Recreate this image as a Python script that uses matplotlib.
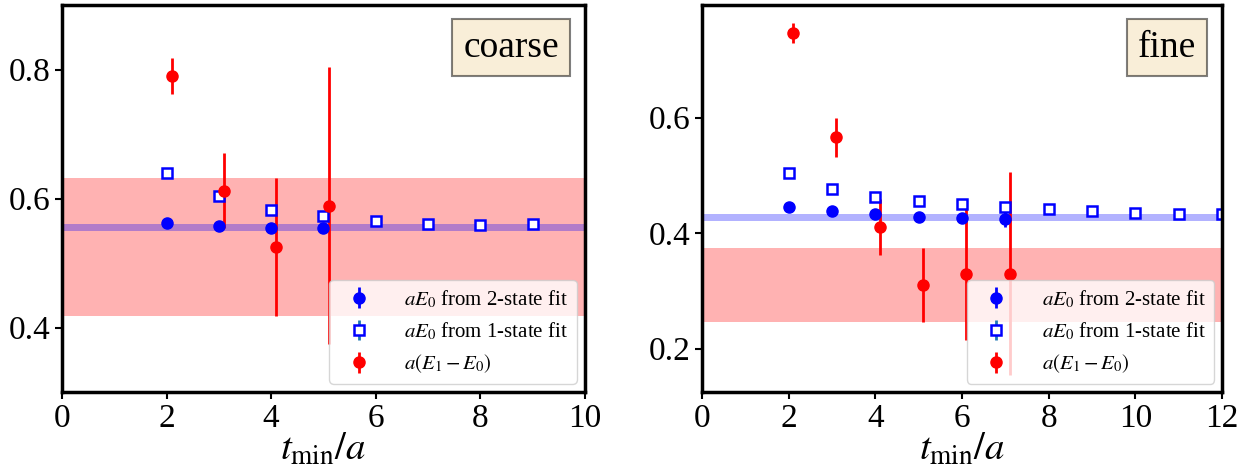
import numpy as np
import matplotlib
matplotlib.use('Agg')
import matplotlib.pyplot as plt

plt.rcParams['font.family'] = ['Liberation Serif', 'DejaVu Serif']
plt.rcParams['mathtext.fontset'] = 'stix'

# coarse ensemble
coarse_t2 = [2, 3, 4, 5]
coarse_E0_2st = [0.562, 0.557, 0.554, 0.554]
coarse_E0_2st_err = [0.004, 0.004, 0.004, 0.004]
coarse_t1 = [2, 3, 4, 5, 6, 7, 8, 9]
coarse_E0_1st = [0.639, 0.604, 0.583, 0.573, 0.565, 0.560, 0.559, 0.561]
coarse_E0_1st_err = [0.002, 0.002, 0.002, 0.002, 0.002, 0.002, 0.002, 0.002]
coarse_dE = [0.790, 0.612, 0.525, 0.589]
coarse_dE_err = [0.028, 0.058, 0.107, 0.215]
coarse_E0_band = (0.5545, 0.0055)
coarse_dE_band = (0.525, 0.107)

# fine ensemble
fine_t2 = [2, 3, 4, 5, 6, 7]
fine_E0_2st = [0.446, 0.439, 0.434, 0.428, 0.427, 0.424]
fine_E0_2st_err = [0.003, 0.003, 0.004, 0.004, 0.005, 0.014]
fine_t1 = [2, 3, 4, 5, 6, 7, 8, 9, 10, 11, 12]
fine_E0_1st = [0.505, 0.476, 0.462, 0.456, 0.450, 0.446, 0.442, 0.439, 0.435, 0.434, 0.434]
fine_E0_1st_err = [0.002] * 11
fine_dE = [0.747, 0.566, 0.411, 0.310, 0.330, 0.330]
fine_dE_err = [0.017, 0.034, 0.048, 0.064, 0.115, 0.176]
fine_E0_band = (0.428, 0.006)
fine_dE_band = (0.310, 0.064)


def draw(ax, t2, e2, e2err, t1, e1, e1err, de, deerr, e0band, deband, xmax, ylim, name):
    ax.axhspan(deband[0] - deband[1], deband[0] + deband[1], color='red', alpha=0.3, lw=0)
    ax.axhspan(e0band[0] - e0band[1], e0band[0] + e0band[1], color='blue', alpha=0.3, lw=0)
    ax.errorbar(t2, e2, yerr=e2err, fmt='o', color='blue', ms=8, elinewidth=2,
                label=r'$aE_0$ from 2-state fit')
    ax.errorbar(t1, e1, yerr=e1err, fmt='s', mfc='white', mec='blue', mew=1.8, ms=7,
                ecolor='C0', elinewidth=2, label=r'$aE_0$ from 1-state fit')
    ax.errorbar(np.array(t2) + 0.1, de, yerr=deerr, fmt='o', color='red', ms=8,
                elinewidth=2, label=r'$a(E_1-E_0)$')
    ax.set_xlim(0, xmax)
    ax.set_xticks(range(0, xmax + 1, 2))
    ax.set_ylim(*ylim)
    ax.set_xlabel(r'$t_{\rm min}/a$', fontsize=28, labelpad=-2)
    ax.tick_params(labelsize=24, width=1.5, length=5)
    for s in ax.spines.values():
        s.set_linewidth(2.5)
    ax.legend(loc='lower right', fontsize=15, handletextpad=1.2, borderaxespad=0.4)
    ax.text(0.95, 0.935, name, transform=ax.transAxes, fontsize=27, ha='right', va='top',
            bbox=dict(boxstyle='square,pad=0.3', facecolor='wheat', alpha=0.5, edgecolor='black', lw=1.5))


fig = plt.figure(figsize=(12.54, 4.70), dpi=100)
ax1 = fig.add_axes([0.0494, 0.166, 0.4171, 0.823])
ax2 = fig.add_axes([0.5598, 0.166, 0.4147, 0.823])

draw(ax1, coarse_t2, coarse_E0_2st, coarse_E0_2st_err, coarse_t1, coarse_E0_1st, coarse_E0_1st_err,
     coarse_dE, coarse_dE_err, coarse_E0_band, coarse_dE_band, 10, (0.30, 0.90), 'coarse')
ax1.set_yticks([0.4, 0.6, 0.8])
draw(ax2, fine_t2, fine_E0_2st, fine_E0_2st_err, fine_t1, fine_E0_1st, fine_E0_1st_err,
     fine_dE, fine_dE_err, fine_E0_band, fine_dE_band, 12, (0.125, 0.795), 'fine')
ax2.set_yticks([0.2, 0.4, 0.6])

fig.savefig('out.png', dpi=100)
